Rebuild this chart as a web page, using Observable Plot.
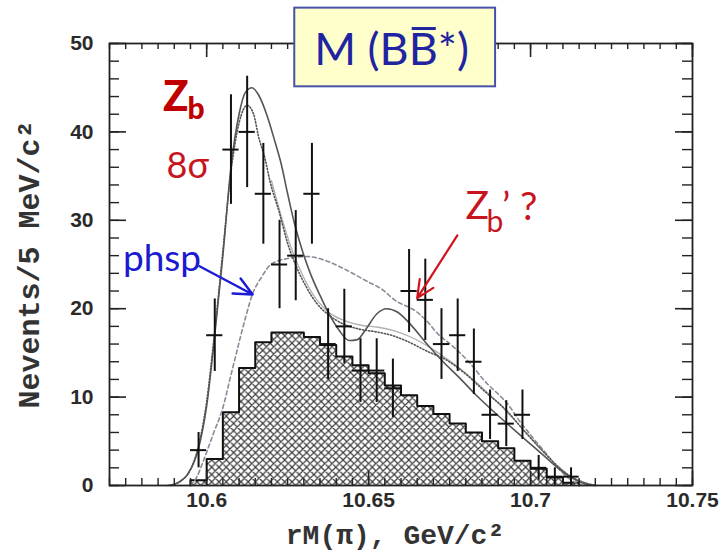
<!DOCTYPE html>
<html><head><meta charset="utf-8">
<script src="https://cdn.jsdelivr.net/npm/d3@7"></script>
<script src="https://cdn.jsdelivr.net/npm/@observablehq/plot@0.6"></script>
<style>body{margin:0;background:#fff}svg{display:block}</style>
</head><body><div id="chart"></div>
<script>
// ---- data points (5 MeV bins) ----
const binCenters = [10.5975,10.6025,10.6075,10.6125,10.6175,10.6225,10.6275,10.6325,10.6375,10.6425,10.6475,10.6525,10.6575,10.6625,10.6675,10.6725,10.6775,10.6825,10.6875,10.6925,10.6975,10.7025,10.7075,10.7125];
const counts     = [4,17,38,40,33,25,26,33,16,18,13,13,11,22,21,16,17,14,8,7,8,2,1,1];
const errors     = [2,4.1,6.2,6.3,5.7,5,5.1,5.7,4,4.2,3.6,3.6,3.3,4.7,4.6,4,4.1,3.7,2.8,2.6,2.8,1.4,1,1];
const halfBin = 0.0025;

// ---- hatched background histogram ----
const histLowEdges = [10.595,10.600,10.605,10.610,10.615,10.620,10.625,10.630,10.635,10.640,10.645,10.650,10.655,10.660,10.665,10.670,10.675,10.680,10.685,10.690,10.695,10.700,10.705,10.710];
const histHeights  = [0.6,3.0,8.3,13.3,16.2,17.3,17.3,16.8,15.9,14.6,13.6,12.7,11.3,10.2,9.0,8.1,7.0,6.0,5.0,4.2,2.8,1.9,0.9,0.3];
const histUpperEdge = 10.715;

// ---- fit curves ----
const totalFitX = [10.588,10.591,10.594,10.5975,10.600,10.6025,10.605,10.6075,10.610,10.612,10.614,10.616,10.6185,10.621,10.623,10.625,10.627,10.629,10.632,10.635,10.6375,10.641,10.644,10.6465,10.649,10.6525,10.6555,10.659,10.663,10.668,10.673,10.678,10.683,10.6885,10.694,10.699,10.704,10.709,10.713,10.7165,10.72];
const totalFitY = [0,0.3,1.2,4.2,9,17,26,36,42,44.5,45,44.2,42,39,36.4,33,29.8,27.2,24,21.5,19.6,17.5,16.4,16.5,17.6,19.4,20,19.6,18.2,16,14,12.2,10.3,8.4,6.6,5,3.4,1.8,0.8,0.2,0];

const zbFitX = [10.589,10.592,10.595,10.5975,10.600,10.6025,10.605,10.6075,10.610,10.6125,10.6145,10.616,10.618,10.6195,10.6225,10.625,10.628,10.631,10.634,10.638,10.642,10.647,10.652,10.657,10.662,10.668,10.674,10.680,10.686,10.692,10.698,10.703,10.708,10.712,10.716,10.72];
const zbFitY = [0,0.5,1.8,4.5,9.5,17.5,26.5,35.5,41,43,42,39.5,37,34.5,30.8,27.4,24.5,22.3,20.6,19.2,18.3,17.7,17.4,17,16.3,15.2,14.2,12.6,10.6,8.7,6.2,4.2,2.3,1.1,0.4,0];

const altFitX = [10.620,10.623,10.626,10.630,10.634,10.638,10.643,10.648,10.653,10.658,10.663,10.669,10.675,10.681,10.687,10.693,10.699,10.704,10.709,10.713,10.717,10.72];
const altFitY = [34.5,30.5,27,23.5,21,19.5,18.6,18.1,17.9,17.5,16.8,15.6,14.1,12.4,10.4,8.2,5.8,3.8,2,0.9,0.3,0];

const phspX = [10.595,10.597,10.599,10.602,10.605,10.6075,10.6096,10.612,10.6142,10.617,10.6195,10.624,10.631,10.637,10.643,10.6495,10.6545,10.6576,10.665,10.668,10.6715,10.6752,10.6814,10.6854,10.6938,10.696,10.7005,10.7053,10.7085,10.7115,10.714,10.716];
const phspY = [0,1,2.8,5.8,8.8,12.5,15.6,19,21.7,23.6,24.9,25.6,25.9,25.4,24.4,23.1,22.1,21.1,19.6,18.6,17.1,16,13.8,12,8.8,7.6,5.5,3.4,2,0.9,0.3,0];

// ---- axes ----
const xTickValues = [10.6, 10.65, 10.7, 10.75];
const xTickLabels = ["10.6", "10.65", "10.7", "10.75"];
const yTickValues = [0, 10, 20, 30, 40, 50];
const yTickLabels = ["0", "10", "20", "30", "40", "50"];
const xMinorStep = 0.005, yMinorStep = 2;
const xDomain = [10.57, 10.75], yDomain = [0, 50];
const xTitle = "rM(\u03c0), GeV/c\u00b2";
const yTitle = "Nevents/5 MeV/c\u00b2";

// ---- annotations ----
const titleText = "M (BB*)";
const titleOverlineChar = 4; // the second B carries a bar
const titleBox = [{x1: 10.6272, x2: 10.6892, y1: 45.1, y2: 54.0}];
const titleLabel = [{x: 10.6571, y: 49.2, text: titleText}];
const zbMain = [{x: 10.5865, y: 43.9, text: "Z"}];
const zbSub = [{x: 10.5941, y: 42.5, text: "b"}];
const sigmaLabel = [{x: 10.5876, y: 36.1, text: "8\u03c3"}];
const zbPrimeMain = [{x: 10.6799, y: 31.6, text: "Z"}];
const zbPrimeSub = [{x: 10.6864, y: 29.8, text: "b"}];
const zbPrimeTail = [{x: 10.6912, y: 31.4, text: "\u2019 ?"}];
const blueLabel = [{x: 10.5862, y: 25.6, text: "phsp"}];
const blueArrow = [{x1: 10.5978, y1: 24.8, x2: 10.6142, y2: 21.6}];
const redArrow  = [{x1: 10.6774, y1: 28.3, x2: 10.6650, y2: 21.2}];

// ---- build tables ----
const points = binCenters.map((x, i) => ({x, n: counts[i], e: errors[i]}));
const histPts = [{x: histLowEdges[0], y: 0}]
  .concat(histLowEdges.map((x, i) => ({x, y: histHeights[i]})))
  .concat([{x: histUpperEdge, y: histHeights[histHeights.length - 1]}, {x: histUpperEdge, y: 0}]);
const zip = (xs, ys) => xs.map((x, i) => ({x, y: ys[i]}));
const total = zip(totalFitX, totalFitY), zb = zip(zbFitX, zbFitY), alt = zip(altFitX, altFitY), phsp = zip(phspX, phspY);

const xMinor = d3.range(xDomain[0], xDomain[1] + 1e-9, xMinorStep);
const yMinor = d3.range(yDomain[0], yDomain[1] + 1e-9, yMinorStep);

const W = 723, H = 554, mL = 109, mR = 31, mT = 43, mB = 69;
const pw = W - mL - mR, ph = H - mT - mB;
const tickStroke = "#222";
const sans = "Lato, 'Open Sans', sans-serif";
const mono = "'Liberation Mono', 'Courier New', monospace";

const chart = Plot.plot({
  width: W, height: H,
  marginLeft: mL, marginRight: mR, marginTop: mT, marginBottom: mB,
  x: {domain: xDomain},
  y: {domain: yDomain},
  style: {fontFamily: "'Liberation Sans', Arial, sans-serif", fontSize: "21px", fontWeight: "bold", color: "#2a2a2a", background: "#fff"},
  marks: [
    Plot.areaY(histPts, {x: "x", y: "y", curve: "step-after", fill: "url(#xhatch)"}),
    Plot.line(histPts, {x: "x", y: "y", curve: "step-after", stroke: "#111", strokeWidth: 2}),
    Plot.line(phsp, {x: "x", y: "y", curve: "monotone-x", stroke: "#8a8a9a", strokeWidth: 1.6, strokeDasharray: "4,3"}),
    Plot.line(alt, {x: "x", y: "y", curve: "monotone-x", stroke: "#b0b0b0", strokeWidth: 1.3}),
    Plot.line(zb, {x: "x", y: "y", curve: "monotone-x", stroke: "#555", strokeWidth: 1.6, strokeDasharray: "1.2,2"}),
    Plot.line(total, {x: "x", y: "y", curve: "monotone-x", stroke: "#555", strokeWidth: 1.6}),
    Plot.ruleX(points, {x: "x", y1: d => d.n - d.e, y2: d => d.n + d.e, stroke: "#111", strokeWidth: 2}),
    Plot.ruleY(points, {y: "n", x1: d => d.x - halfBin, x2: d => d.x + halfBin, stroke: "#111", strokeWidth: 2}),
    // inward ticks on four sides
    Plot.ruleX(xMinor, {insetTop: ph - 7, stroke: tickStroke, strokeWidth: 1.4}),
    Plot.ruleX(xMinor, {insetBottom: ph - 6, stroke: tickStroke, strokeWidth: 1.4}),
    Plot.ruleX(xTickValues, {insetTop: ph - 14, stroke: tickStroke, strokeWidth: 1.6}),
    Plot.ruleX(xTickValues, {insetBottom: ph - 14, stroke: tickStroke, strokeWidth: 1.6}),
    Plot.ruleY(yMinor, {insetRight: pw - 10, stroke: tickStroke, strokeWidth: 1.4}),
    Plot.ruleY(yMinor, {insetLeft: pw - 10, stroke: tickStroke, strokeWidth: 1.4}),
    Plot.ruleY(yTickValues, {insetRight: pw - 17, stroke: tickStroke, strokeWidth: 1.6}),
    Plot.ruleY(yTickValues, {insetLeft: pw - 17, stroke: tickStroke, strokeWidth: 1.6}),
    Plot.frame({stroke: "#222", strokeWidth: 1.8}),
    Plot.axisX({ticks: xTickValues, tickFormat: d => xTickLabels[xTickValues.indexOf(d)], tickSize: 0, tickPadding: 7, label: null}),
    Plot.axisY({ticks: yTickValues, tickFormat: d => yTickLabels[yTickValues.indexOf(d)], tickSize: 0, tickPadding: 16, label: null}),
    Plot.text([xTitle], {frameAnchor: "bottom", textAnchor: "middle", lineAnchor: "middle", dx: -6, dy: 50, text: d => d, fontFamily: mono, fontSize: 28, fontWeight: "bold", fill: "#333"}),
    Plot.text([yTitle], {frameAnchor: "left", textAnchor: "middle", lineAnchor: "middle", dx: -80, rotate: -90, text: d => d, fontFamily: mono, fontSize: 30, fontWeight: "bold", fill: "#333"}),
    // annotations
    Plot.arrow(blueArrow, {x1: "x1", y1: "y1", x2: "x2", y2: "y2", stroke: "#1a1ad8", strokeWidth: 2.4, headLength: 13, headAngle: 50}),
    Plot.arrow(redArrow, {x1: "x1", y1: "y1", x2: "x2", y2: "y2", stroke: "#d0141e", strokeWidth: 2.2, headLength: 13, headAngle: 50}),
    Plot.text(zbMain, {x: "x", y: "y", text: "text", textAnchor: "start", fontSize: 42, fontFamily: sans, fontWeight: 900, fill: "#c00000"}),
    Plot.text(zbSub, {x: "x", y: "y", text: "text", textAnchor: "start", fontSize: 30, fontFamily: sans, fontWeight: 900, fill: "#c00000"}),
    Plot.text(sigmaLabel, {x: "x", y: "y", text: "text", textAnchor: "start", fontSize: 36, fontFamily: sans, fontWeight: "normal", fill: "#c8141e"}),
    Plot.text(zbPrimeMain, {x: "x", y: "y", text: "text", textAnchor: "start", fontSize: 39, fontFamily: sans, fontWeight: "normal", fill: "#c8141e"}),
    Plot.text(zbPrimeSub, {x: "x", y: "y", text: "text", textAnchor: "start", fontSize: 30, fontFamily: sans, fontWeight: "normal", fill: "#c8141e"}),
    Plot.text(zbPrimeTail, {x: "x", y: "y", text: "text", textAnchor: "start", fontSize: 39, fontFamily: sans, fontWeight: "normal", fill: "#c8141e"}),
    Plot.text(blueLabel, {x: "x", y: "y", text: "text", fontSize: 37, fontFamily: sans, fontWeight: "normal", fill: "#1a1ad0"}),
    Plot.rect(titleBox, {x1: "x1", x2: "x2", y1: "y1", y2: "y2", fill: "#ffffcc", stroke: "#4652a8", strokeWidth: 2}),
    Plot.text(titleLabel, {x: "x", y: "y", text: "text", fontSize: 45, fontFamily: sans, fontWeight: "normal", fill: "#1f24a0"})
  ]
});

// crosshatch pattern for the histogram
const defs = d3.select(chart).insert("defs", ":first-child");
const pat = defs.append("pattern").attr("id", "xhatch").attr("patternUnits", "userSpaceOnUse").attr("width", 7.3).attr("height", 7.3);
pat.append("rect").attr("width", 7.3).attr("height", 7.3).attr("fill", "#fff");
pat.append("path").attr("d", "M0,0L7.3,7.3M7.3,0L0,7.3M-1,1L1,-1M6.3,8.3L8.3,6.3").attr("stroke", "#3a3a3a").attr("stroke-width", 1.2);

document.getElementById("chart").appendChild(chart);

// bar over the second B of the title, measured from the rendered glyph
Array.from(chart.querySelectorAll("text"))
  .filter(t => t.textContent === titleText)
  .forEach(t => {
    let box;
    try { box = t.getExtentOfChar(titleOverlineChar); } catch (e) { return; }
    const ns = "http://www.w3.org/2000/svg";
    const line = document.createElementNS(ns, "line");
    const tr = t.getAttribute("transform");
    if (tr) line.setAttribute("transform", tr);
    const yy = box.y + box.height * 0.14;
    line.setAttribute("x1", box.x + 3);
    line.setAttribute("x2", box.x + box.width - 2);
    line.setAttribute("y1", yy);
    line.setAttribute("y2", yy);
    line.setAttribute("stroke", "#1f24a0");
    line.setAttribute("stroke-width", "3");
    t.parentNode.appendChild(line);
  });
</script>
</body></html>
